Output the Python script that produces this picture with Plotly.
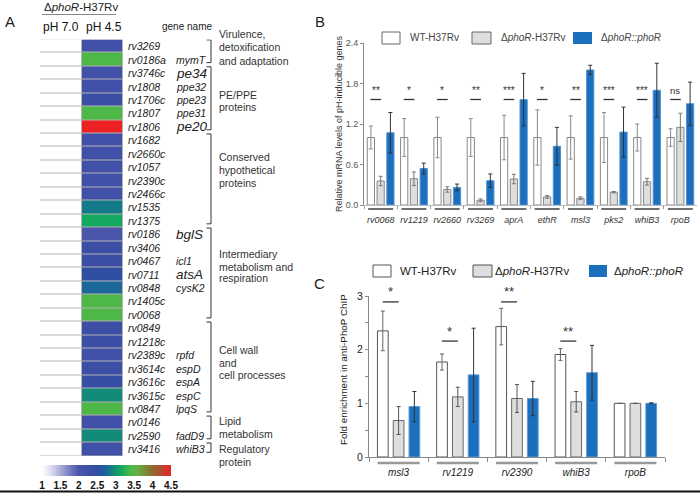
import plotly.graph_objects as go

W, H = 700, 493


def fx(p):
    return p / W


def fy(p):
    return 1 - p / H


FONT = "Liberation Sans, Arial, sans-serif"

# ---------------- Panel A data ----------------
genes = ["rv3269", "rv0186a", "rv3746c", "rv1808", "rv1706c", "rv1807", "rv1806",
         "rv1682", "rv2660c", "rv1057", "rv2390c", "rv2466c", "rv1535", "rv1375",
         "rv0186", "rv3406", "rv0467", "rv0711", "rv0848", "rv1405c", "rv0068",
         "rv0849", "rv1218c", "rv2389c", "rv3614c", "rv3616c", "rv3615c", "rv0847",
         "rv0146", "rv2590", "rv3416"]
gene_names = ["", "mymT", "pe34", "ppe32", "ppe23", "ppe31", "pe20",
              "", "", "", "", "", "", "",
              "bglS", "", "icl1", "atsA", "cysK2", "", "",
              "", "", "rpfd", "espD", "espA", "espC", "lpqS",
              "", "fadD9", "whiB3"]
ph70 = [1.0, 1.0, 1.0, 1.0, 1.0, 1.0, 1.0, 1.0, 1.0, 1.0, 1.0, 1.0, 1.0, 1.0, 1.0, 1.0,
        1.0, 1.0, 1.0, 1.0, 1.0, 1.0, 1.0, 1.0, 1.0, 1.0, 1.0, 1.0, 1.0, 1.0, 1.0]
ph45 = [2.2, 3.4, 2.2, 2.2, 2.3, 3.4, 4.5,
        2.2, 2.2, 2.2, 2.2, 2.2, 2.85, 3.15,
        2.0, 2.3, 2.3, 2.5, 2.75, 3.4, 3.4,
        2.3, 2.3, 2.2, 2.3, 2.4, 2.95, 3.4,
        2.2, 2.95, 2.2]
emphasized = ["pe34", "pe20", "bglS", "atsA"]
group_lines = [["Virulence,", "detoxification", "and adaptation"],
               ["PE/PPE", "proteins"],
               ["Conserved", "hypothetical", "proteins"],
               ["Intermediary", "metabolism and", "respiration"],
               ["Cell wall", "and", "cell processes"],
               ["Lipid", "metabolism"],
               ["Regulatory", "protein"]]
group_rows = [(0, 1), (2, 6), (7, 13), (14, 20), (21, 27), (28, 29), (30, 30)]
cbar_ticks = [1, 1.5, 2, 2.5, 3, 3.5, 4, 4.5]
cbar_labels = ["1", "1.5", "2", "2.5", "3", "3.5", "4", "4.5"]

# ---------------- Panel B data ----------------
b_genes = ["rv0068", "rv1219", "rv2660", "rv3269", "aprA", "ethR", "msl3", "pks2", "whiB3", "rpoB"]
b_wt = [1.0, 1.0, 1.0, 1.0, 1.0, 1.0, 1.0, 1.0, 1.0, 1.0]
b_wt_err = [0.17, 0.28, 0.3, 0.28, 0.33, 0.41, 0.32, 0.37, 0.2, 0.13]
b_ko = [0.355, 0.39, 0.23, 0.07, 0.385, 0.12, 0.1, 0.19, 0.345, 1.15]
b_ko_err = [0.07, 0.1, 0.04, 0.02, 0.07, 0.02, 0.02, 0.01, 0.05, 0.21]
b_comp = [1.07, 0.54, 0.26, 0.36, 1.56, 0.87, 2.0, 1.08, 1.7, 1.5]
b_comp_err = [0.3, 0.08, 0.05, 0.1, 0.39, 0.28, 0.07, 0.37, 0.4, 0.32]
b_sig = ["**", "*", "*", "**", "***", "*", "**", "***", "***", "ns"]

# ---------------- Panel C data ----------------
c_genes = ["msl3", "rv1219", "rv2390", "whiB3", "rpoB"]
c_wt = [2.35, 1.77, 2.43, 1.91, 1.0]
c_wt_err = [0.37, 0.15, 0.34, 0.11, 0.0]
c_ko = [0.68, 1.12, 1.09, 1.03, 1.0]
c_ko_err = [0.26, 0.18, 0.26, 0.19, 0.0]
c_comp = [0.94, 1.53, 1.09, 1.57, 1.0]
c_comp_err = [0.28, 0.87, 0.32, 0.51, 0.01]
c_sig = ["*", "*", "**", "**", ""]
c_y_ticks = [0, 0.5, 1, 1.5, 2, 2.5, 3]
c_y_labels = ["0", "", "1", "", "2", "", "3"]
b_y_ticks = [0, 0.6, 1.2, 1.8, 2.4]

# ---------------- styles ----------------
WT_FILL, KO_FILL, COMP_FILL = "white", "#dedede", "#1b6fbd"
stops = [(1.0, "#ffffff"), (1.25, "#dcdcf0"), (1.5, "#aaacd7"), (1.8, "#6c74be"),
         (2.0, "#4a56aa"), (2.3, "#3d4ea5"), (2.5, "#2f50a2"), (2.7, "#1f5f9f"),
         (2.85, "#137a8a"), (3.0, "#12936f"), (3.15, "#14a860"), (3.4, "#4db848"),
         (3.6, "#62b042"), (3.8, "#7a8c36"), (4.0, "#8e6a30"), (4.3, "#c24030"),
         (4.5, "#ee2222")]
colorscale = [[(v - 1) / 3.5, c] for v, c in stops]

fig = go.Figure()

# ---- heatmap ----
z = [[a, b] for a, b in zip(ph70, ph45)]
fig.add_trace(go.Heatmap(
    z=z, x=[0, 1], y=list(range(len(genes))), zmin=1, zmax=4.5,
    colorscale=colorscale, xgap=1, ygap=1, hoverinfo="skip",
    xaxis="x", yaxis="y",
    colorbar=dict(orientation="h", x=fx(106.5), xanchor="center", len=129 / W,
                  lenmode="fraction", y=fy(465), yanchor="top", thickness=11,
                  outlinewidth=0, tickvals=cbar_ticks, ticktext=cbar_labels,
                  ticks="", tickfont=dict(size=10, color="#111", family=FONT, weight="bold"),
                  xpad=0, ypad=0)))


def bar(xs, ys, errs, fill, line_color, err_color, width, offset, xa, ya):
    return go.Bar(x=xs, y=ys, width=width, offset=offset,
                  marker=dict(color=fill, line=dict(color=line_color, width=1)),
                  error_y=dict(type="data", array=errs, color=err_color, thickness=1, width=2),
                  xaxis=xa, yaxis=ya, showlegend=False, hoverinfo="skip")


# ---- panel B bars ----
bs, bw = 0.2933, 0.217
fig.add_trace(bar(b_genes, b_wt, b_wt_err, WT_FILL, "#888", "#888", bw, -bs - bw / 2, "x2", "y2"))
fig.add_trace(bar(b_genes, b_ko, b_ko_err, KO_FILL, "#888", "#777", bw, -bw / 2, "x2", "y2"))
fig.add_trace(bar(b_genes, b_comp, b_comp_err, COMP_FILL, "#4d92d4", "#333", bw, bs - bw / 2, "x2", "y2"))

# ---- panel C bars ----
cs_, cw = 0.2667, 0.181
fig.add_trace(bar(c_genes, c_wt, c_wt_err, WT_FILL, "#555", "#666", cw, -cs_ - cw / 2, "x3", "y3"))
fig.add_trace(bar(c_genes, c_ko, c_ko_err, KO_FILL, "#666", "#555", cw, -cw / 2, "x3", "y3"))
fig.add_trace(bar(c_genes, c_comp, c_comp_err, COMP_FILL, "#5a9ad8", "#333", cw, cs_ - cw / 2, "x3", "y3"))

shapes = []
ann = []


def text(x, y, s, size, color="#222", xanchor="left", yanchor="middle", italic=False,
         xref="paper", yref="paper", textangle=0, weight="normal"):
    ann.append(dict(x=x, y=y, xref=xref, yref=yref, text=s, showarrow=False,
                    xanchor=xanchor, yanchor=yanchor, textangle=textangle,
                    font=dict(family=FONT, size=size, color=color,
                              style="italic" if italic else "normal", weight=weight)))


def line(x0, y0, x1, y1, color="#333", width=1, xref="paper", yref="paper"):
    shapes.append(dict(type="line", x0=x0, y0=y0, x1=x1, y1=y1, xref=xref, yref=yref,
                       line=dict(color=color, width=width)))


def box(x0, y0, x1, y1, fill, outline):
    shapes.append(dict(type="rect", x0=fx(x0), x1=fx(x1), y0=fy(y1), y1=fy(y0),
                       xref="paper", yref="paper", fillcolor=fill,
                       line=dict(color=outline, width=1 if outline else 0)))


# ---- Panel A decorations ----
shapes.append(dict(type="rect", xref="x", yref="y", x0=-0.5, x1=1.5, y0=-0.5,
                   y1=len(genes) - 0.5, fillcolor="#b4b4b4", line=dict(width=0), layer="below"))
text(fx(3), fy(22), "A", 15, "#222")
text(fx(42), fy(7), "Δ<i>phoR</i>-H37Rv", 11.5, "#222")
line(fx(42), fy(14.5), fx(116), fy(14.5), "#888", 1)
text(fx(41), fy(27), "pH 7.0", 12, "#111")
text(fx(84), fy(27), "pH 4.5", 12, "#111")
text(fx(160), fy(27), "gene name", 10, "#222")
for i, (g, n) in enumerate(zip(genes, gene_names)):
    text(fx(126), i, g, 10.5, "#222", italic=True, yref="y")
    if n:
        text(fx(174), i, n, 13.5 if n in emphasized else 10.5, "#222", italic=True, yref="y")

for (a, b), lines_ in zip(group_rows, group_lines):
    y0, y1 = a - 0.47, b + 0.22
    line(fx(211), y0, fx(211), y1, "#333", 1, yref="y")
    line(fx(206.5), y0, fx(211), y0, "#333", 1, yref="y")
    line(fx(206.5), y1, fx(211), y1, "#333", 1, yref="y")

group_text_y = [[34.3, 47.3, 60.7], [95.5, 106.5], [156.7, 170, 182.7],
                [254.3, 266.7, 278.3], [350, 362.7, 375], [421, 434.3], [449.3, 462.3]]
for lines_, ys in zip(group_lines, group_text_y):
    for s, yy in zip(lines_, ys):
        text(fx(217), fy(yy), s, 10.5, "#333")

# ---- Panel B decorations ----
text(fx(313), fy(22), "B", 15, "#222")
box(382, 32, 400, 44, "white", "#666")
box(472, 32, 491, 44, KO_FILL, "#666")
box(573, 32, 592, 44, COMP_FILL, None)
text(fx(408), fy(38), "WT-H37Rv", 10, "#444")
text(fx(499), fy(38), "Δ<i>phoR</i>-H37Rv", 10, "#444")
text(fx(599), fy(38), "Δ<i>phoR::phoR</i>", 10, "#444")
text(fx(339), fy(124), "Relative mRNA levels of pH-inducible genes", 9, "#333",
     xanchor="center", textangle=-90)
mid_b = -bs / 2
for i, s in enumerate(b_sig):
    line(i + mid_b - 0.16, 1.563, i + mid_b + 0.16, 1.563, "#333", 1.3, xref="x2", yref="y2")
    text(i + mid_b, 1.585, s, 10 if s != "ns" else 9.5, "#333", xanchor="center",
         yanchor="bottom", xref="x2", yref="y2")
for i in range(len(b_genes)):
    line(i - 0.375, fy(209), i + 0.375, fy(209), "#222", 1.3, xref="x2")

# ---- Panel C decorations ----
text(fx(312), fy(283), "C", 15, "#222")
box(373, 265, 391, 277, "white", "#555")
box(473, 265, 492, 277, KO_FILL, "#555")
box(589, 265, 607, 277, COMP_FILL, None)
text(fx(398), fy(271), "WT-H37Rv", 11.5, "#222")
text(fx(493), fy(271), "Δ<i>phoR</i>-H37Rv", 11.5, "#222")
text(fx(612), fy(271), "Δ<i>phoR::phoR</i>", 11.5, "#222")
text(fx(343), fy(370), "Fold enrichment in anti-PhoP ChIP", 9.8, "#222",
     xanchor="center", textangle=-90)
sig_level_c = [2.89, 2.16, 2.89, 2.16, 0]
mid_c = -cs_ / 2
for i, s in enumerate(c_sig):
    if not s:
        continue
    line(i + mid_c - 0.135, sig_level_c[i], i + mid_c + 0.135, sig_level_c[i], "#333", 1.3,
         xref="x3", yref="y3")
    text(i + mid_c, sig_level_c[i] + 0.01, s, 13, "#333", xanchor="center",
         yanchor="bottom", xref="x3", yref="y3")
for i in range(len(c_genes)):
    line(i - 0.355, fy(463), i + 0.355, fy(463), "#999", 2.5, xref="x3")

# bottom rule
line(0, fy(491.5), 1, fy(491.5), "#111", 2)

axis_common = dict(showgrid=False, zeroline=False)
fig.update_layout(
    width=W, height=H, margin=dict(l=0, r=0, t=0, b=0, autoexpand=False),
    paper_bgcolor="white", plot_bgcolor="rgba(0,0,0,0)",
    font=dict(family=FONT), barmode="overlay",
    shapes=shapes, annotations=ann,
    xaxis=dict(domain=[fx(40), fx(123)], range=[-0.5, 1.5], visible=False, anchor="y"),
    yaxis=dict(domain=[fy(456), fy(39.5)], range=[len(genes) - 0.5, -0.5], visible=False, anchor="x"),
    xaxis2=dict(domain=[fx(364), fx(697)], type="category", range=[-0.5, 9.5], anchor="y2",
                showline=True, linecolor="#bbb", linewidth=1, ticks="outside", tickson="boundaries",
                ticklen=3, tickcolor="#999", ticklabelstandoff=6, tickangle=0,
                tickfont=dict(size=9, color="#333", style="italic"), **axis_common),
    yaxis2=dict(domain=[fy(205), fy(43)], range=[0, 2.4], anchor="x2", tickvals=b_y_ticks,
                tickformat=".1f", showline=True, linecolor="#888", ticks="outside", ticklen=3,
                tickcolor="#888", tickfont=dict(size=9, color="#555"), **axis_common),
    xaxis3=dict(domain=[fx(369), fx(665)], type="category", range=[-0.5, 4.5], anchor="y3",
                showline=True, linecolor="#888", linewidth=1, ticks="outside", tickson="boundaries",
                ticklen=4, tickcolor="#888", ticklabelstandoff=6, tickangle=0,
                tickfont=dict(size=10, color="#222", style="italic"), **axis_common),
    yaxis3=dict(domain=[fy(457), fy(296)], range=[0, 3], anchor="x3", tickvals=c_y_ticks,
                ticktext=c_y_labels, showline=True, linecolor="#888", ticks="outside", ticklen=3,
                tickcolor="#888", tickfont=dict(size=10.5, color="#222"), **axis_common),
)

fig.write_html("out.html", config={"displayModeBar": False},
               post_script="document.body.style.margin='0';")
